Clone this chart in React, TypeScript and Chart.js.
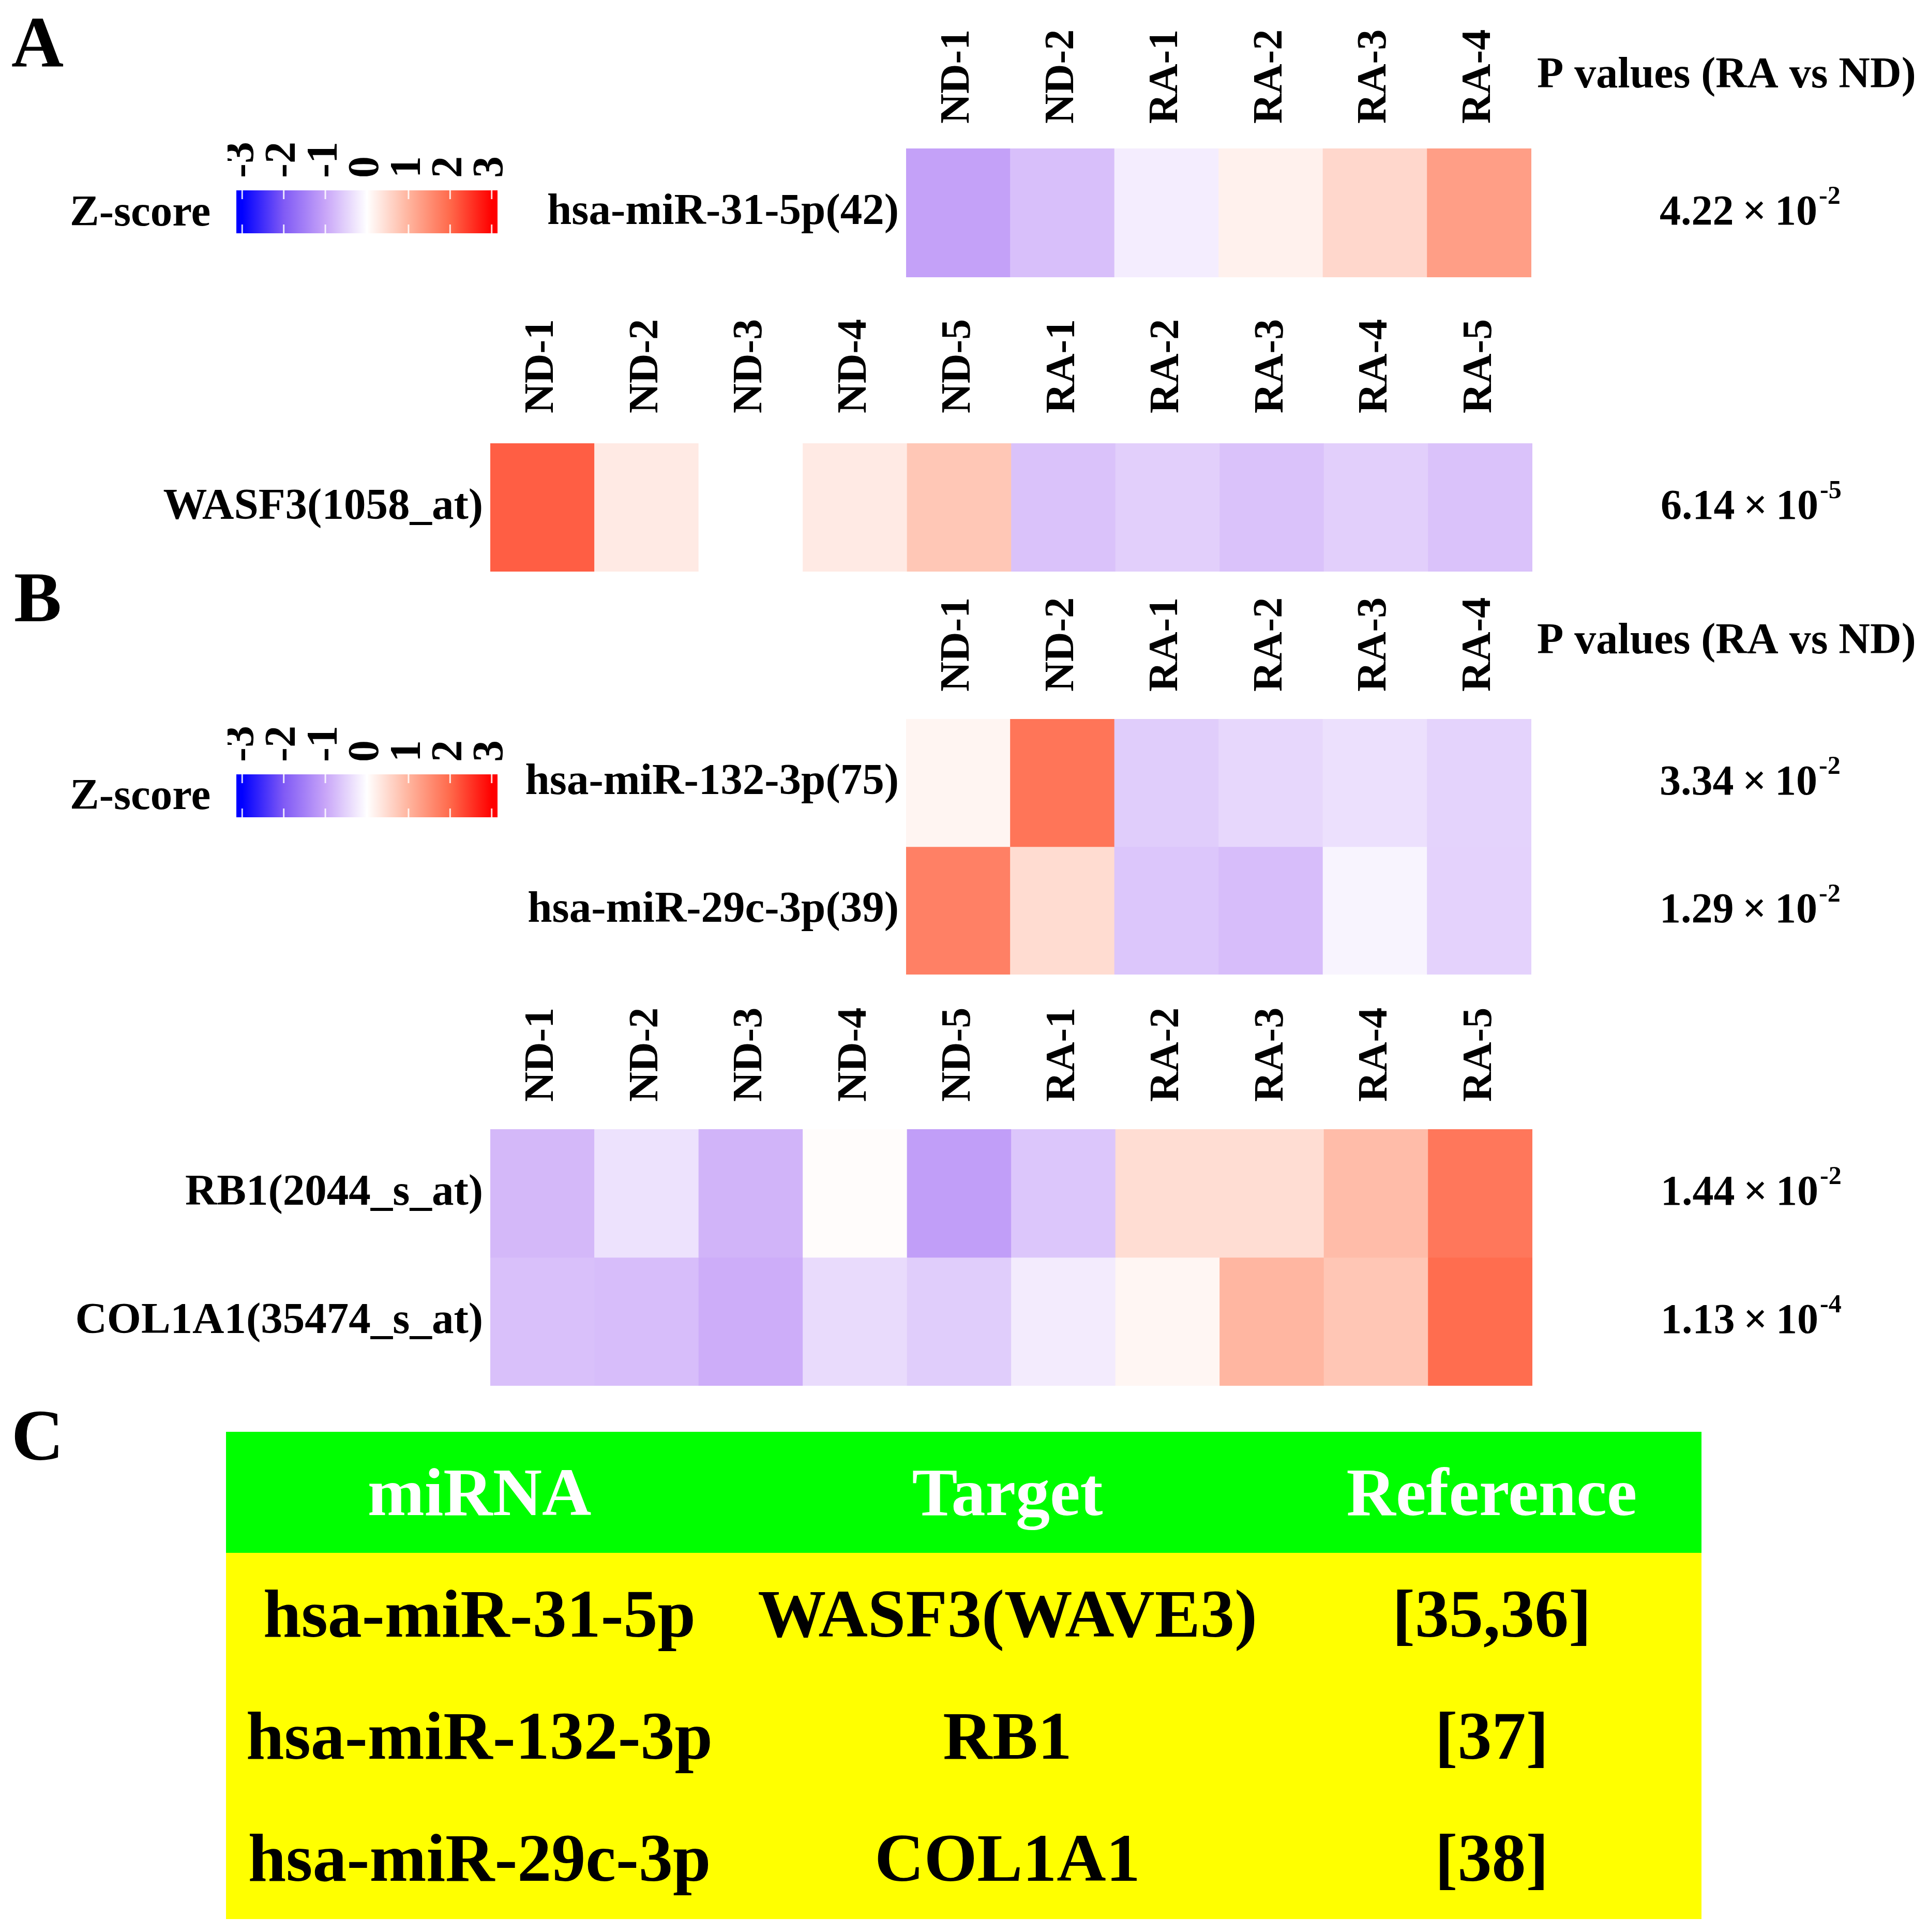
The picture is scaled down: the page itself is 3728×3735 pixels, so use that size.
import React, { useEffect, useRef } from "react";
import { Chart, registerables } from "chart.js";

Chart.register(...registerables);

const FONT = "'Liberation Serif', 'Times New Roman', Times, serif";

// ---------------- data ----------------
const samples6 = ["ND-1", "ND-2", "RA-1", "RA-2", "RA-3", "RA-4"];
const samples10 = ["ND-1", "ND-2", "ND-3", "ND-4", "ND-5", "RA-1", "RA-2", "RA-3", "RA-4", "RA-5"];

const rowsAmiR = ["hsa-miR-31-5p(42)"];
const zMiR31 = [-1.06, -0.71, -0.2, 0.19, 0.53, 1.29];
const pMantAmiR = ["4.22"];
const pExpAmiR = ["-2"];

const rowsAgene = ["WASF3(1058_at)"];
const zWASF3 = [2.1, 0.28, 0, 0.28, 0.75, -0.68, -0.53, -0.68, -0.53, -0.68];
const pMantAgene = ["6.14"];
const pExpAgene = ["-5"];

const rowsBmiR = ["hsa-miR-132-3p(75)", "hsa-miR-29c-3p(39)"];
const zMiR132 = [0.13, 1.84, -0.56, -0.44, -0.34, -0.49];
const zMiR29c = [1.69, 0.47, -0.63, -0.73, -0.12, -0.5];
const pMantBmiR = ["3.34", "1.29"];
const pExpBmiR = ["-2", "-2"];

const rowsBgene = ["RB1(2044_s_at)", "COL1A1(35474_s_at)"];
const zRB1 = [-0.79, -0.32, -0.83, 0.04, -1.1, -0.63, 0.45, 0.45, 0.89, 1.81];
const zCOL1A1 = [-0.7, -0.73, -0.91, -0.4, -0.56, -0.22, 0.12, 0.97, 0.76, 1.95];
const pMantBgene = ["1.44", "1.13"];
const pExpBgene = ["-2", "-4"];

const pHeader = "P values (RA vs ND)";

// colour scale (Z-score)
const zStops = [-3, -2, -1, 0, 1, 2, 3];
const colorStops = ["#0000FF", "#805AF5", "#C8A5F8", "#FFFFFF", "#FFB49E", "#FF694B", "#FF0000"];
const cbTicks = [-3, -2, -1, 0, 1, 2, 3];
const cbMin = -3.14;
const cbMax = 3.14;

// table C
const tableHeader = ["miRNA", "Target", "Reference"];
const tableMiRNA = ["hsa-miR-31-5p", "hsa-miR-132-3p", "hsa-miR-29c-3p"];
const tableTarget = ["WASF3(WAVE3)", "RB1", "COL1A1"];
const tableRef = ["[35,36]", "[37]", "[38]"];

// ---------------- helpers ----------------
function hexToRgb(h: string) {
  const n = parseInt(h.slice(1), 16);
  return [(n >> 16) & 255, (n >> 8) & 255, n & 255];
}
const stopRgb = colorStops.map(hexToRgb);

function zColor(z: number) {
  if (z <= zStops[0]) return colorStops[0];
  if (z >= zStops[zStops.length - 1]) return colorStops[colorStops.length - 1];
  let i = 0;
  while (z > zStops[i + 1]) i++;
  const t = (z - zStops[i]) / (zStops[i + 1] - zStops[i]);
  const a = stopRgb[i];
  const b = stopRgb[i + 1];
  const c = a.map((v, k) => Math.round(v + (b[k] - v) * t));
  return `rgb(${c[0]},${c[1]},${c[2]})`;
}

const pValuePlugin = {
  id: "pvals",
  afterDraw(chart: any, _args: any, opts: any) {
    const { ctx, chartArea, scales } = chart;
    ctx.save();
    ctx.fillStyle = "#000";
    ctx.textBaseline = "alphabetic";
    ctx.textAlign = "left";
    (opts.mant || []).forEach((m: string, i: number) => {
      const y = scales.y.getPixelForValue(i + 0.5) + 22;
      const x = chartArea.right + opts.dx;
      ctx.font = `bold 82px ${FONT}`;
      const main = `${m}\u2009×\u200910`;
      ctx.fillText(main, x, y);
      const w = ctx.measureText(main).width;
      ctx.font = `bold 50px ${FONT}`;
      ctx.fillText(opts.exp[i], x + w + 3, y - 40);
    });
    if (opts.header) {
      ctx.font = `bold 84px ${FONT}`;
      ctx.fillText(opts.header, chartArea.right + 11, chartArea.top - opts.headerDy);
    }
    ctx.restore();
  },
};

type HeatProps = {
  left: number;
  top: number;
  width: number;
  height: number;
  leftW: number;
  topH: number;
  rightW: number;
  bottomPad: number;
  labelGap: number;
  samples: string[];
  rowLabels: string[];
  rows: number[][];
  mant: string[];
  exp: string[];
  header?: string;
  headerDy?: number;
};

function Heatmap(p: HeatProps) {
  const ref = useRef<HTMLCanvasElement>(null);
  useEffect(() => {
    const n = p.rows.length;
    const datasets = p.rows.map((vals, r) => ({
      data: vals.map(() => [r, r + 1]),
      backgroundColor: vals.map(zColor),
      borderWidth: 0,
      borderSkipped: false,
      grouped: false,
      barPercentage: 1,
      categoryPercentage: 1,
    }));
    const chart = new Chart(ref.current!, {
      type: "bar",
      data: { labels: p.samples, datasets: datasets as any },
      plugins: [pValuePlugin as any],
      options: {
        animation: false,
        responsive: false,
        devicePixelRatio: 1,
        layout: { padding: { left: 0, top: 0, right: p.rightW, bottom: p.bottomPad } },
        plugins: {
          legend: { display: false },
          tooltip: { enabled: false },
          pvals: { mant: p.mant, exp: p.exp, dx: 248, header: p.header, headerDy: p.headerDy || 120 },
        } as any,
        scales: {
          x: {
            type: "category",
            position: "top",
            offset: true,
            grid: { display: false, drawTicks: false },
            border: { display: false },
            ticks: {
              autoSkip: false,
              minRotation: 90,
              maxRotation: 90,
              padding: p.labelGap,
              color: "#000",
              font: { family: FONT, size: 80, weight: "bold", lineHeight: 0 },
            },
            afterFit: (s: any) => {
              s.height = p.topH;
              s.paddingLeft = 0;
              s.paddingRight = 0;
            },
          },
          y: {
            type: "linear",
            min: 0,
            max: n,
            reverse: true,
            grid: { display: false, drawTicks: false },
            border: { display: false },
            afterBuildTicks: (s: any) => {
              s.ticks = p.rowLabels.map((_, i) => ({ value: i + 0.5 }));
            },
            ticks: {
              autoSkip: false,
              padding: 14,
              color: "#000",
              font: { family: FONT, size: 85, weight: "bold" },
              callback: (v: any) => p.rowLabels[Math.floor(Number(v))] ?? "",
            },
            afterFit: (s: any) => {
              s.width = p.leftW;
              s.paddingTop = 0;
              s.paddingBottom = 0;
            },
          },
        },
      } as any,
    });
    return () => chart.destroy();
  }, []);
  return (
    <canvas
      ref={ref}
      width={p.width}
      height={p.height}
      style={{ position: "absolute", left: p.left, top: p.top, width: p.width, height: p.height }}
    />
  );
}

const cbTickPlugin = {
  id: "cbticks",
  afterDatasetsDraw(chart: any) {
    const { ctx, chartArea, scales } = chart;
    ctx.save();
    ctx.strokeStyle = "rgba(255,255,255,0.85)";
    ctx.lineWidth = 3;
    cbTicks.forEach((v) => {
      const x = scales.x.getPixelForValue(v);
      ctx.beginPath();
      ctx.moveTo(x, chartArea.top);
      ctx.lineTo(x, chartArea.top + 17);
      ctx.moveTo(x, chartArea.bottom - 17);
      ctx.lineTo(x, chartArea.bottom);
      ctx.stroke();
    });
    ctx.restore();
  },
};

function ColorBar({ left, top }: { left: number; top: number }) {
  const ref = useRef<HTMLCanvasElement>(null);
  const W = 540;
  const H = 200;
  useEffect(() => {
    const chart = new Chart(ref.current!, {
      type: "bar",
      data: {
        labels: ["Z"],
        datasets: [
          {
            data: [[cbMin, cbMax]],
            borderWidth: 0,
            borderSkipped: false,
            barPercentage: 1,
            categoryPercentage: 1,
            backgroundColor: (c: any) => {
              const ch = c.chart;
              const area = ch.chartArea;
              if (!area || !ch.scales.x) return colorStops[3];
              const g = ch.ctx.createLinearGradient(area.left, 0, area.right, 0);
              zStops.forEach((z, i) => {
                const t = (ch.scales.x.getPixelForValue(z) - area.left) / (area.right - area.left);
                g.addColorStop(Math.min(1, Math.max(0, t)), colorStops[i]);
              });
              return g;
            },
          } as any,
        ],
      },
      plugins: [cbTickPlugin as any],
      options: {
        indexAxis: "y",
        animation: false,
        responsive: false,
        devicePixelRatio: 1,
        layout: { padding: { left: 17, right: 18, top: 0, bottom: 9 } },
        plugins: { legend: { display: false }, tooltip: { enabled: false } },
        scales: {
          x: {
            type: "linear",
            position: "top",
            min: cbMin,
            max: cbMax,
            grid: { display: false, drawTicks: false },
            border: { display: false },
            afterBuildTicks: (s: any) => {
              s.ticks = cbTicks.map((v) => ({ value: v }));
            },
            ticks: {
              autoSkip: false,
              minRotation: 90,
              maxRotation: 90,
              padding: 24,
              color: "#000",
              font: { family: FONT, size: 84, weight: "bold", lineHeight: 0 },
              callback: (v: any) => String(v),
            },
            afterFit: (s: any) => {
              s.height = 108;
              s.paddingLeft = 0;
              s.paddingRight = 0;
            },
          },
          y: { type: "category", display: false },
        },
      } as any,
    });
    return () => chart.destroy();
  }, []);
  return (
    <canvas ref={ref} width={W} height={H} style={{ position: "absolute", left, top, width: W, height: H }} />
  );
}

function Text({ x, y, size, text, color = "#000" }: { x: number; y: number; size: number; text: string; color?: string }) {
  return (
    <div
      style={{
        position: "absolute",
        left: x,
        top: y - 0.8375 * size,
        fontSize: size,
        lineHeight: 1,
        fontWeight: "bold",
        fontFamily: FONT,
        color,
        whiteSpace: "nowrap",
      }}
    >
      {text}
    </div>
  );
}

export default function App() {
  const colW = [980, 1062, 811];
  const cell: React.CSSProperties = {
    padding: 0,
    textAlign: "center",
    verticalAlign: "middle",
    whiteSpace: "nowrap",
  };
  return (
    <div
      style={{
        position: "absolute",
        left: 0,
        top: 0,
        width: 3728,
        height: 3735,
        background: "#fff",
        overflow: "hidden",
        fontFamily: FONT,
      }}
    >
      <Text x={22} y={129} size={140} text="A" />
      <Text x={27} y={1202} size={138} text="B" />
      <Text x={22} y={2822} size={140} text="C" />

      <Text x={135} y={436} size={85} text="Z-score" />
      <ColorBar left={440} top={260} />
      <Text x={135} y={1564} size={85} text="Z-score" />
      <ColorBar left={440} top={1389} />

      <Heatmap
        left={1000}
        top={40}
        width={2728}
        height={510}
        leftW={752}
        topH={247}
        rightW={767}
        bottomPad={14}
        labelGap={48}
        samples={samples6}
        rowLabels={rowsAmiR}
        rows={[zMiR31]}
        mant={pMantAmiR}
        exp={pExpAmiR}
        header={pHeader}
        headerDy={118}
      />
      <Heatmap
        left={250}
        top={600}
        width={3478}
        height={515}
        leftW={698}
        topH={257}
        rightW={765}
        bottomPad={10}
        labelGap={58}
        samples={samples10}
        rowLabels={rowsAgene}
        rows={[zWASF3]}
        mant={pMantAgene}
        exp={pExpAgene}
      />
      <Heatmap
        left={1000}
        top={1130}
        width={2728}
        height={765}
        leftW={752}
        topH={260}
        rightW={767}
        bottomPad={11}
        labelGap={53}
        samples={samples6}
        rowLabels={rowsBmiR}
        rows={[zMiR132, zMiR29c]}
        mant={pMantBmiR}
        exp={pExpBmiR}
        header={pHeader}
        headerDy={127}
      />
      <Heatmap
        left={140}
        top={1930}
        width={3588}
        height={760}
        leftW={808}
        topH={253}
        rightW={765}
        bottomPad={11}
        labelGap={53}
        samples={samples10}
        rowLabels={rowsBgene}
        rows={[zRB1, zCOL1A1]}
        mant={pMantBgene}
        exp={pExpBgene}
      />

      <table
        style={{
          position: "absolute",
          left: 437,
          top: 2768,
          width: 2853,
          height: 942,
          borderCollapse: "collapse",
          tableLayout: "fixed",
          fontFamily: FONT,
          fontWeight: "bold",
          fontSize: 132,
          lineHeight: 1,
        }}
      >
        <colgroup>
          {colW.map((w, i) => (
            <col key={i} style={{ width: w }} />
          ))}
        </colgroup>
        <tbody>
          <tr style={{ height: 234, background: "#00FF00", color: "#fff" }}>
            {tableHeader.map((h) => (
              <td key={h} style={cell}>
                {h}
              </td>
            ))}
          </tr>
          {tableMiRNA.map((m, i) => (
            <tr key={m} style={{ height: 236, background: "#FFFF00", color: "#000" }}>
              <td style={cell}>{m}</td>
              <td style={cell}>{tableTarget[i]}</td>
              <td style={cell}>{tableRef[i]}</td>
            </tr>
          ))}
        </tbody>
      </table>
    </div>
  );
}
